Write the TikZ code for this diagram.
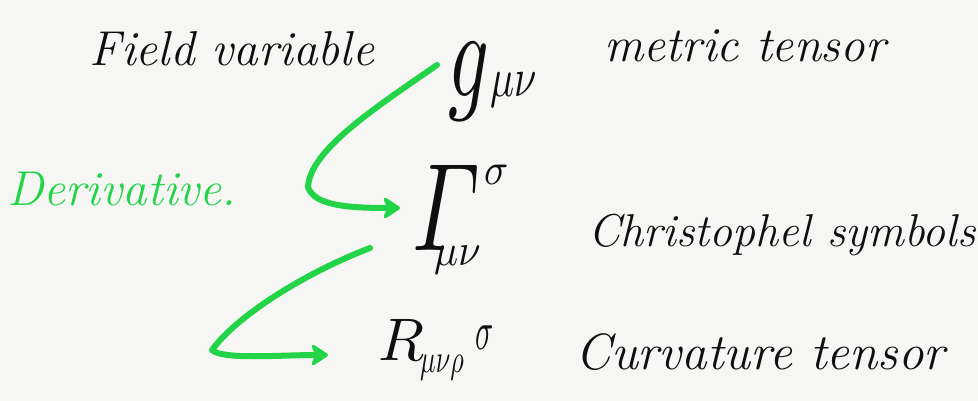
\documentclass[tikz,border=0pt]{standalone}
\usepackage{amsmath}
\usepackage{graphicx}
\usetikzlibrary{arrows.meta,calc}
\definecolor{paper}{RGB}{246,246,244}
\definecolor{pen}{RGB}{36,212,72}
\definecolor{ink}{RGB}{15,15,15}
\tikzset{
  hand/.style={font=\fontsize{#1}{#1}\selectfont\itshape, text=ink, inner sep=0pt},
  mathsym/.style={text=ink, inner sep=0pt},
  greenarrow/.style={draw=pen, line width=6, line cap=round, line join=round,
    -{Stealth[length=20, width=26, inset=6, round]}},
}
\begin{document}
\begin{tikzpicture}[x=1pt,y=-1pt]
  \fill[paper] (0,0) rectangle (978,401);
  \useasboundingbox (0,0) rectangle (978,401);

  % labels
  \node[hand=49, anchor=base] (fv) at (232,66) {Field variable};
  \node[hand=49, anchor=base] (mt) at (745,62) {metric tensor};
  \node[hand=49, anchor=base, text=pen] (dv) at (122,205) {Derivative.};
  \node[hand=46, anchor=base] (cs) at (782,246) {Christophel symbols};
  \node[hand=51, anchor=base] (ct) at (760,369) {Curvature tensor};

  % symbols
  \node[mathsym, anchor=base west] (g) at (448,97)
    {\scalebox{8}[12.5]{$g$}\kern1pt\raisebox{1pt}{\scalebox{4}[5.5]{$\mu\nu$}}};
  \node[mathsym, anchor=base west] (G) at (412,250)
    {\rlap{\kern22pt\raisebox{-15pt}{\scalebox{4}[4.5]{$\mu\nu$}}}\scalebox{9}[12.5]{$\varGamma$}\kern4pt\raisebox{66pt}{\scalebox{4}[4.5]{$\sigma$}}};
  \node[mathsym, anchor=base west] (R) at (378,360)
    {\scalebox{6}{$R$}\kern-4pt\raisebox{-12pt}{\scalebox{2.6}[4]{$\mu\nu\rho$}}\kern12pt\raisebox{10pt}{\scalebox{3}[5.5]{$\sigma$}}};

  % arrows
  \coordinate (a1s) at (437,65);
  \coordinate (c1) at (308,187);
  \coordinate (a1e) at (400,208);
  \coordinate (a2s) at (370,248);
  \coordinate (c2) at (212,350);
  \coordinate (a2e) at (328,355);
  \draw[greenarrow] (a1s) .. controls (375,108) and (310,150) .. (c1)
        .. controls (314,206) and (350,208) .. (a1e);
  \draw[greenarrow] (a2s) .. controls (300,275) and (235,318) .. (c2)
        .. controls (222,360) and (280,355) .. (a2e);
\end{tikzpicture}
\end{document}
